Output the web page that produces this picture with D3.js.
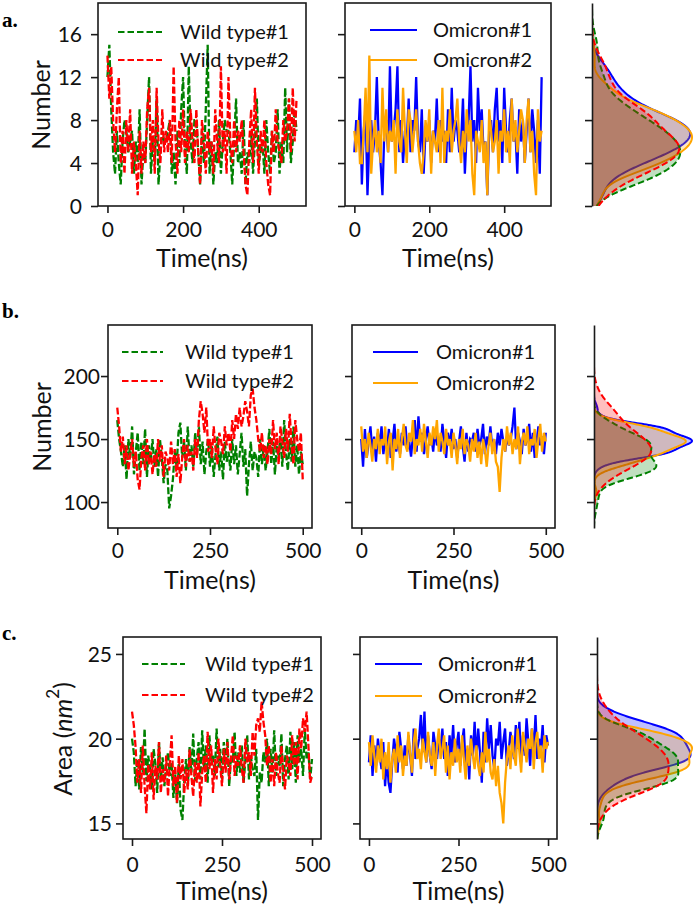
<!DOCTYPE html>
<html><head><meta charset="utf-8">
<script src="https://cdn.jsdelivr.net/npm/d3@7"></script>
<style>body{margin:0;background:#fff}svg{display:block}</style>
</head><body><svg id="c" width="694" height="908"></svg>
<script>
// ---------- DATA ----------
const time = [0,5,10,15,20,25,30,35,40,45,50,55,60,65,70,75,80,85,90,95,100,105,110,115,120,125,130,135,140,145,150,155,160,165,170,175,180,185,190,195,200,205,210,215,220,225,230,235,240,245,250,255,260,265,270,275,280,285,290,295,300,305,310,315,320,325,330,335,340,345,350,355,360,365,370,375,380,385,390,395,400,405,410,415,420,425,430,435,440,445,450,455,460,465,470,475,480,485,490,495,500];

const seriesNames = ["Wild type#1","Wild type#2","Omicron#1","Omicron#2"];
const seriesColors = ["green","red","blue","orange"];

// Panel a: number
const wt1A = [12,15,9,5,3,7,4,2,6,8, 7,5,6,7,3,6,4,9,2,5, 4,8,12,3,6,4,10,2,5,7, 6,6,7,8,3,5,2,7,4,9, 12,5,3,13,6,4,8,8,5,2, 7,4,9,15,3,6,2,5,4,8, 3,6,8,7,7,5,2,6,10,4, 5,3,8,2,5,4,7,3,6,10, 4,5,6,3,8,5,3,7,4,5, 9,3,6,4,11,5,10,4,6,9, 7];
const wt2A = [14,10,13,8,5,9,12,4,7,3, 8,5,9,3,6,4,1,7,3,6, 4,9,11,5,8,3,11,6,4,9, 5,7,5,8,4,13,6,3,8,5, 9,4,7,5,9,6,4,9,5,2, 8,6,3,7,5,6,3,9,6,4, 13,5,7,3,12,6,4,8,5,7, 6,8,5,2,1,6,9,4,11,6, 3,7,5,8,4,2,1,7,5,9, 6,5,4,8,6,7,10,5,11,6, 10];
const om1A = [5,8,6,10,2,7,9,1,6,8, 5,7,12,6,4,1,7,8,5,13, 6,7,9,13,5,8,4,7,6,10, 5,8,7,12,6,5,9,3,7,6, 8,4,7,6,10,5,8,6,7,4, 9,5,11,6,8,7,5,6,10,3, 7,8,13,6,8,4,11,7,9,5, 6,1,7,8,5,9,11,6,8,4, 11,7,5,8,10,6,7,3,9,6, 8,4,7,10,5,9,7,4,8,3, 12];
const om2A = [7,5,8,4,4,7,11,5,14,3, 6,8,5,7,4,11,6,9,5,7, 6,8,3,9,6,5,11,7,4,9, 8,5,7,9,6,4,3,5,8,6, 9,3,7,6,5,8,4,11,4,7, 6,9,5,7,8,10,6,4,7,5, 9,6,8,3,1,7,6,5,8,4, 6,1,9,7,5,6,8,3,7,6, 9,5,7,4,10,6,8,5,7,9, 8,4,8,10,5,7,3,1,9,6, 7];

// Panel b: number
const wt1B = [165,150,140,128,145,118,150,135,160,122, 140,155,125,148,130,158,120,145,133,150, 128,142,120,150,135,115,130,125,95,105, 118,140,128,155,163,135,148,125,160,132, 145,128,155,138,160,130,148,122,140,150, 128,145,120,138,152,125,140,118,148,132, 140,125,150,130,145,122,138,155,128,142, 105,130,148,125,140,135,120,150,130,145, 125,140,158,130,148,122,145,135,152,128, 165,138,125,150,132,160,128,145,122,140, 130];
const wt2B = [175,160,140,152,130,145,125,138,150,128, 140,118,110,135,145,125,150,130,140,122, 138,128,150,132,145,120,140,135,125,148, 130,142,120,138,115,135,150,128,145,132, 140,125,150,135,165,180,170,155,175,140, 150,135,160,142,130,155,148,138,160,145, 155,140,165,150,170,158,175,160,168,180, 172,160,185,190,175,165,150,140,155,135, 145,130,150,138,165,142,155,130,160,148, 135,158,140,170,145,130,165,150,140,155, 118];
const om1B = [150,128,158,135,148,160,140,152,132,155, 145,160,138,150,142,158,135,148,162,140, 150,138,155,145,160,142,148,136,152,165, 140,168,148,155,138,150,160,145,152,140, 158,145,150,140,162,148,135,155,145,158, 142,150,135,148,160,145,132,155,140,150, 148,155,140,158,145,150,162,138,152,145, 160,142,150,138,155,145,158,148,140,152, 145,150,160,175,142,155,148,138,158,145, 150,162,140,155,135,148,160,145,152,138, 155];
const om2B = [160,140,150,135,155,145,132,150,142,158, 138,150,145,160,130,148,155,125,150,142, 158,135,150,162,145,140,155,148,165,138, 150,145,158,140,162,148,135,155,145,160, 150,165,140,155,148,138,158,145,150,135, 155,145,130,150,142,158,138,150,145,132, 150,140,155,135,148,130,150,142,128,145, 155,138,150,132,128,108,135,150,140,160, 145,155,138,150,142,160,130,148,155,145, 160,138,150,145,158,135,150,162,140,155, 148];

// Panel c: area (nm^2)
const wt1C = [20.0,19.2,17.2,18.8,17.0,19.5,18.0,20.6,17.5,19.0, 18.2,17.0,19.4,18.5,16.8,19.8,17.6,18.9,17.2,18.4, 19.2,17.8,18.6,16.5,17.9,16.2,18.5,15.8,15.2,17.4, 18.8,17.2,19.5,18.0,20.3,17.5,18.8,19.8,17.6,20.5, 18.2,19.6,17.4,20.2,18.5,19.0,17.8,20.6,18.3,19.4, 17.6,19.8,18.4,20.0,17.2,19.0,18.6,20.4,17.8,19.2, 18.0,19.6,17.4,18.8,20.2,17.6,19.0,18.2,17.8,19.4, 15.2,18.0,17.4,19.2,18.6,20.0,17.2,19.4,18.0,20.5, 17.8,19.0,18.4,20.3,17.2,18.8,19.6,17.6,20.4,18.2, 19.8,17.4,20.2,18.6,19.4,17.8,20.6,18.8,19.2,17.6, 18.8];
const wt2C = [21.6,20.8,19.5,17.4,18.8,16.8,19.6,17.2,15.6,18.5, 17.0,19.2,16.4,18.4,17.6,19.8,16.8,18.2,17.4,19.0, 16.6,18.6,20.2,17.2,18.4,16.2,19.0,17.6,18.8,16.8, 18.2,17.0,19.4,17.8,16.6,18.6,17.4,19.2,16.0,18.0, 19.0,17.4,20.4,18.2,19.6,16.8,18.8,17.6,20.0,18.4, 17.2,19.4,18.0,19.8,17.6,18.8,20.2,17.8,19.0,18.4, 19.6,18.2,17.4,20.0,18.6,19.2,17.8,20.4,19.0,20.8, 21.2,20.4,22.2,21.0,20.2,18.4,19.6,17.4,18.8,17.2, 19.2,18.0,17.4,19.6,18.2,17.0,19.0,18.6,17.8,20.2, 18.4,19.8,17.6,20.6,19.4,21.2,20.4,21.6,19.6,17.4, 17.8];
const om1C = [18.6,20.2,17.8,19.6,18.4,20.0,19.0,18.2,19.8,17.2, 18.8,17.4,16.8,18.6,20.0,19.2,18.0,20.4,19.4,18.2, 19.6,18.4,20.2,19.0,17.8,20.6,18.8,19.4,20.0,21.4, 19.2,21.6,18.6,20.2,19.0,18.2,20.4,19.6,18.8,20.0, 19.4,20.6,18.8,19.8,17.8,20.2,19.0,20.8,18.6,19.6, 20.4,18.4,19.8,20.6,18.2,19.4,17.6,20.2,19.0,21.0, 18.8,20.6,19.2,17.4,20.4,18.6,21.2,19.4,20.8,19.0, 18.2,20.0,19.6,21.0,18.8,19.8,20.6,18.4,19.2,20.4, 19.6,18.8,20.8,19.4,21.0,18.6,20.2,19.0,21.2,19.8, 18.4,20.6,19.2,21.4,18.8,20.0,19.4,20.8,18.6,20.2, 19.6];
const om2C = [19.8,18.4,20.2,19.0,18.0,19.6,18.6,20.0,17.6,19.2, 18.2,19.8,17.4,18.8,19.4,18.0,20.2,18.6,19.6,17.8, 19.0,18.4,20.4,19.2,18.0,19.8,20.6,18.8,19.4,18.2, 20.0,19.2,18.6,20.4,19.0,18.4,19.8,17.8,19.6,20.6, 18.8,19.4,20.2,18.0,19.6,17.6,19.2,18.4,20.0,18.6, 19.4,18.0,20.2,18.8,17.6,19.6,18.4,20.0,19.0,18.2, 19.6,18.4,17.8,19.2,18.0,20.4,18.6,19.4,18.0,17.6, 18.8,17.2,18.4,16.8,16.2,15.0,17.4,18.8,19.6,18.2, 20.2,19.0,18.4,20.6,19.2,18.0,20.4,19.6,18.6,20.0, 19.4,20.6,18.2,19.8,20.4,18.8,19.6,18.0,20.2,19.4, 19.8];

// Tick labels / axis texts
const xTicksA = [0,200,400];
const xTicksBC = [0,250,500];
const yTicksA = [0,4,8,12,16];
const yTicksB = [100,150,200];
const yTicksC = [15,20,25];
const xAxisTitle = "Time(ns)";
const panelLetters = ["a.","b.","c."];

// ---------- DRAWING ----------
const svg = d3.select("#c");
const FONT = "Lato, 'Open Sans', sans-serif";
const AXC = "#1a1a1a";
let clipN = 0;

const panels = [
  {letter:panelLetters[0], data:[wt1A,wt2A,om1A,om2A], yDomain:[0,18.9], yTicks:yTicksA, xTicks:xTicksA, ylabel:"number",
   top:3, bottom:206, leftX:[98,306], midX:[345,551], kdeX:592, yLabGap:16, tickBase:237, titleBase:267,
   ylab:[40,105], letterPos:[2,27], legL:{x0:118,x1:162,y:[32,60],tx:180}, legM:{x0:370,x1:417,y:[30,60],tx:433}},
  {letter:panelLetters[1], data:[wt1B,wt2B,om1B,om2B], yDomain:[79.4,240.5], yTicks:yTicksB, xTicks:xTicksBC, ylabel:"number",
   top:325, bottom:528, leftX:[108,312], midX:[352,555], kdeX:594, yLabGap:8, tickBase:558, titleBase:589,
   ylab:[41,427], letterPos:[2,318], legL:{x0:122,x1:163,y:[352,381],tx:185}, legM:{x0:373,x1:418,y:[352,383],tx:436}},
  {letter:panelLetters[2], data:[wt1C,wt2C,om1C,om2C], yDomain:[14.08,26.0], yTicks:yTicksC, xTicks:xTicksBC, ylabel:"area",
   top:637, bottom:839, leftX:[123,321], midX:[360,557], kdeX:597, yLabGap:11, tickBase:872, titleBase:900,
   ylab:[62,739], letterPos:[2,640], legL:{x0:142,x1:185,y:[664,695],tx:205}, legM:{x0:375,x1:422,y:[664,696],tx:438}}
];

function kde(values, lo, hi) {
  const n = values.length;
  const sd = d3.deviation(values);
  const h = sd * Math.pow(n, -0.2);
  const a = Math.max(d3.min(values) - 3*h, lo), b = Math.min(d3.max(values) + 3*h, hi);
  const pts = [];
  const N = 240;
  for (let i = 0; i <= N; i++) {
    const v = a + (b - a) * i / N;
    let s = 0;
    for (const x of values) { const z = (v - x) / h; s += Math.exp(-0.5*z*z); }
    pts.push([v, s / (n * h * Math.sqrt(2*Math.PI))]);
  }
  return pts;
}

function styleAxis(g) {
  g.selectAll("path.domain").attr("stroke", AXC).attr("stroke-width", 1.6);
  g.selectAll(".tick line").attr("stroke", AXC).attr("stroke-width", 1.6);
  g.selectAll("text").attr("font-family", FONT).attr("font-size", 21).attr("fill", "#111");
}

panels.forEach(p => {
  const y = d3.scaleLinear().domain(p.yDomain).range([p.bottom, p.top]);

  svg.append("text").attr("x", p.letterPos[0]).attr("y", p.letterPos[1])
    .attr("font-family", "'Liberation Serif', 'Times New Roman', serif").attr("font-weight", "bold")
    .attr("font-size", 21).text(p.letter);

  [[p.leftX, [0,1], p.legL, true], [p.midX, [2,3], p.legM, false]].forEach(([xr, idx, leg, showY]) => {
    const x = d3.scaleLinear().domain([-25, 525]).range(xr);
    const id = "clip" + (clipN++);
    svg.append("clipPath").attr("id", id).append("rect")
      .attr("x", xr[0]).attr("y", p.top).attr("width", xr[1]-xr[0]).attr("height", p.bottom-p.top);
    const g = svg.append("g");
    idx.forEach(k => {
      const line = d3.line().x((d,i) => x(time[i])).y(d => y(d));
      g.append("path").attr("d", line(p.data[k])).attr("fill", "none")
        .attr("stroke", seriesColors[k]).attr("stroke-width", 2.3)
        .attr("stroke-dasharray", k < 2 ? "7,2.5" : null)
        .attr("clip-path", `url(#${id})`);
    });
    idx.forEach((k, j) => {
      svg.append("line").attr("x1", leg.x0).attr("x2", leg.x1).attr("y1", leg.y[j]).attr("y2", leg.y[j])
        .attr("stroke", seriesColors[k]).attr("stroke-width", 2)
        .attr("stroke-dasharray", k < 2 ? "6.5,3" : null);
      svg.append("text").attr("x", leg.tx).attr("y", leg.y[j] + 7)
        .attr("font-family", FONT).attr("font-size", 20).attr("fill", "#111").text(seriesNames[k]);
    });
    const gx = svg.append("g").attr("transform", `translate(0,${p.bottom})`)
      .call(d3.axisBottom(x).tickValues(p.xTicks).tickSize(7).tickSizeOuter(0));
    gx.select("path.domain").remove();
    styleAxis(gx);
    gx.selectAll("text").attr("y", p.tickBase - p.bottom).attr("dy", 0);
    const gy = svg.append("g").attr("transform", `translate(${xr[0]},0)`)
      .call(d3.axisLeft(y).tickValues(p.yTicks).tickSize(7).tickSizeOuter(0));
    gy.select("path.domain").remove();
    styleAxis(gy);
    if (showY) gy.selectAll("text").attr("x", -p.yLabGap).attr("dy", "0.36em");
    else gy.selectAll("text").remove();
    svg.append("rect").attr("x", xr[0]).attr("y", p.top).attr("width", xr[1]-xr[0]).attr("height", p.bottom-p.top)
      .attr("fill", "none").attr("stroke", AXC).attr("stroke-width", 1.6);
    svg.append("text").attr("x", (xr[0]+xr[1])/2).attr("y", p.titleBase).attr("text-anchor", "middle")
      .attr("font-family", FONT).attr("font-size", 25).attr("fill", "#111").text(xAxisTitle);
  });

  const yt = svg.append("text").attr("transform", `translate(${p.ylab[0]},${p.ylab[1]}) rotate(-90)`)
    .attr("text-anchor", "middle").attr("dominant-baseline", "central")
    .attr("font-family", FONT).attr("font-size", 25).attr("fill", "#111");
  if (p.ylabel === "number") yt.text("Number");
  else {
    yt.append("tspan").text("Area (");
    yt.append("tspan").attr("font-style", "italic").text("nm");
    yt.append("tspan").attr("font-size", 17).attr("dy", -10).text("2");
    yt.append("tspan").attr("dy", 10).text(")");
  }

  const dens = p.data.map(v => kde(v, p.yDomain[0], p.yDomain[1]));
  const maxD = d3.max(dens, d => d3.max(d, e => e[1]));
  const kx = d3.scaleLinear().domain([0, maxD]).range([p.kdeX, 692]);
  const id = "clip" + (clipN++);
  svg.append("clipPath").attr("id", id).append("rect")
    .attr("x", p.kdeX).attr("y", p.top).attr("width", 694 - p.kdeX).attr("height", p.bottom - p.top);
  const kg = svg.append("g").attr("clip-path", `url(#${id})`);
  [2,3,0,1].forEach(k => {
    const area = d3.area().y(d => y(d[0])).x0(kx(0)).x1(d => kx(d[1]));
    const line = d3.line().y(d => y(d[0])).x(d => kx(d[1]));
    kg.append("path").attr("d", area(dens[k])).attr("fill", seriesColors[k]).attr("fill-opacity", 0.25).attr("stroke", "none");
    kg.append("path").attr("d", line(dens[k])).attr("fill", "none").attr("stroke", seriesColors[k])
      .attr("stroke-width", 2).attr("stroke-dasharray", k < 2 ? "6.5,3" : null);
  });
  const ka = svg.append("g").attr("transform", `translate(${p.kdeX},0)`)
    .call(d3.axisLeft(y).tickValues(p.yTicks).tickSize(7).tickSizeOuter(0).tickFormat(""));
  styleAxis(ka);
});
</script></body></html>
